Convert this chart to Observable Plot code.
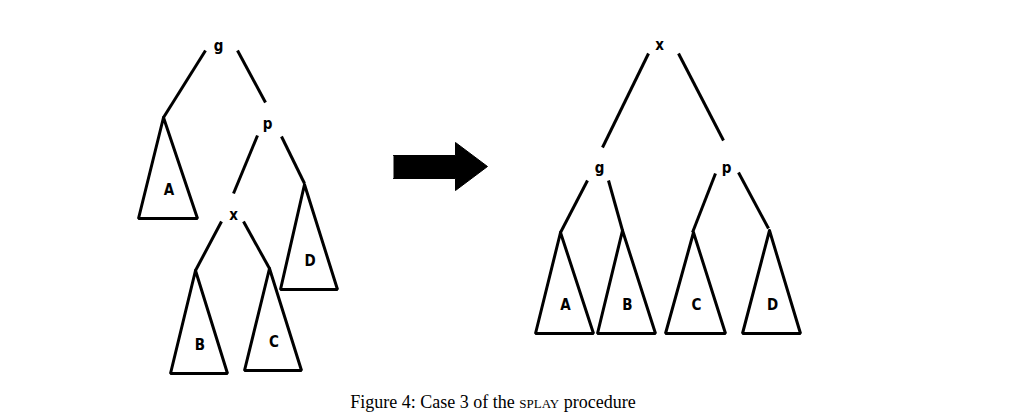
<!DOCTYPE html>
<html>
<head>
<meta charset="utf-8">
<script src="https://cdn.jsdelivr.net/npm/d3@7"></script>
<script src="https://cdn.jsdelivr.net/npm/@observablehq/plot@0.6"></script>
<style>
  body { margin: 0; background: white; }
  #caption { font-family: "Liberation Serif", serif; font-size: 18px; text-align: center; width: 986px; margin-top: 2px; }
  .sc { font-variant: small-caps; }
</style>
</head>
<body>
<div id="chart"></div>
<div id="caption">Figure 4: Case 3 of the <span class="sc">splay</span> procedure</div>
<script>
// edges between nodes: [x1, y1, x2, y2]
const edges = [
  [205, 50, 163, 117], [237, 50, 265, 102],
  [257, 135, 233, 193], [281, 136, 304, 183],
  [221, 221, 195, 270], [243, 221, 269, 268],
  [648, 53, 602, 147], [678, 53, 723, 140],
  [587, 180, 560, 232], [608, 180, 622, 230],
  [715, 173, 692, 232], [738, 172, 768, 228]
]
// subtrees: apex x, apex y, base left, base right, base y, name
const subtrees = [
  [163, 117, 138, 197, 218, "A"],
  [195, 270, 170, 227, 373, "B"],
  [269, 268, 244, 301, 370, "C"],
  [304, 184, 280, 337, 289, "D"],
  [560, 232, 535, 593, 333, "A"],
  [622, 230, 597, 655, 333, "B"],
  [693, 232, 665, 725, 333, "C"],
  [769, 230, 742, 800, 333, "D"]
]
// node labels: x, y, name
const nodes = [
  [218, 46, "g"], [267, 124, "p"], [233, 215, "x"],
  [659, 45, "x"], [599, 168, "g"], [726, 168, "p"]
]
// arrow outline
const arrowX = [393, 455, 455, 487, 455, 455, 393]
const arrowY = [155, 155, 142, 166, 190, 178, 178]

const tri = subtrees.flatMap(([ax, ay, l, r, by], i) =>
  [[ax, ay], [l, by], [r, by], [ax, ay]].map(([x, y]) => ({x, y, i})))
const seg = edges.map(([x1, y1, x2, y2]) => ({x1, y1, x2, y2}))
const arrow = arrowX.map((x, k) => ({x, y: arrowY[k]}))

const chart = Plot.plot({
  width: 1028, height: 390, margin: 0,
  x: {domain: [0, 1028], range: [0, 1028], axis: null},
  y: {domain: [0, 390], range: [0, 390], axis: null},
  marks: [
    Plot.link(seg, {x1: "x1", y1: "y1", x2: "x2", y2: "y2", stroke: "black", strokeWidth: 3}),
    Plot.line(tri, {x: "x", y: "y", z: "i", stroke: "black", strokeWidth: 3, strokeLinejoin: "miter"}),
    Plot.line(arrow, {x: "x", y: "y", fill: "black", stroke: "black", strokeWidth: 1}),
    Plot.text(subtrees, {x: d => (d[2] + d[3]) / 2 + 1, y: d => d[4] - 28, text: d => d[5],
      fontSize: 15, fontWeight: "bold", fontFamily: "DejaVu Sans Condensed, sans-serif", fill: "black"}),
    Plot.text(nodes, {x: d => d[0], y: d => d[1], text: d => d[2],
      fontSize: 15, fontWeight: "bold", fontFamily: "DejaVu Sans Condensed, sans-serif", fill: "black"})
  ]
})
d3.select("#chart").append(() => chart)
</script>
</body>
</html>
